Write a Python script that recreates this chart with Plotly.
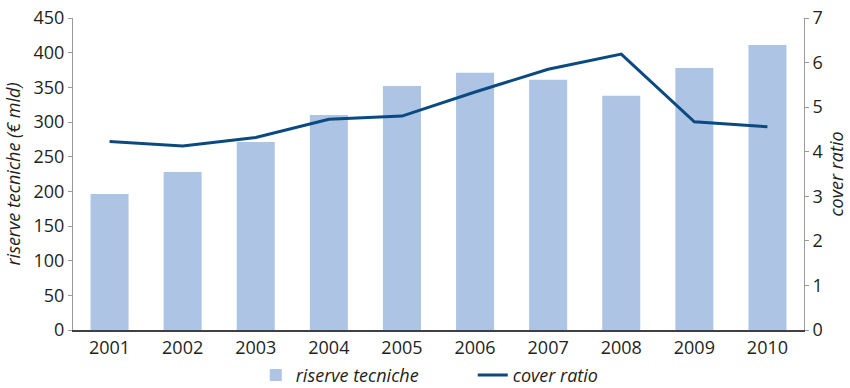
import plotly.graph_objects as go

years = ["2001", "2002", "2003", "2004", "2005", "2006", "2007", "2008", "2009", "2010"]
riserve_tecniche = [196, 228, 271, 310, 352, 371, 361, 338, 378, 411]
cover_ratio = [4.23, 4.13, 4.32, 4.73, 4.80, 5.34, 5.85, 6.19, 4.67, 4.56]

FONT = "Open Sans"
TXT = "#231f20"
BAR = "#aec4e4"
LINE = "#0b4a80"
FS = 18

fig = go.Figure()
fig.add_trace(go.Bar(
    x=years, y=riserve_tecniche, name="riserve tecniche",
    marker=dict(color=BAR, line=dict(width=0)), yaxis="y",
))
fig.add_trace(go.Scatter(
    x=years, y=cover_ratio, name="cover ratio", mode="lines",
    line=dict(color=LINE, width=3), yaxis="y2",
))

fig.update_layout(
    width=850, height=388,
    margin=dict(l=73, r=46, t=18, b=58, autoexpand=False),
    paper_bgcolor="white", plot_bgcolor="white",
    font=dict(family=FONT, size=FS, color=TXT),
    bargap=0.48,
    showlegend=True,
    legend=dict(
        orientation="h", x=0.25, xanchor="left",
        y=-0.145, yanchor="middle",
        font=dict(family=FONT, size=FS, color=TXT, style="italic"),
        itemwidth=30, tracegroupgap=0, entrywidth=172,
        bgcolor="rgba(0,0,0,0)",
    ),
    xaxis=dict(
        type="category", showgrid=False, showline=True, linecolor="#404040",
        linewidth=2, ticks="", tickfont=dict(size=FS), zeroline=False,
        automargin=False,
    ),
    yaxis=dict(
        range=[0, 450], dtick=50, showgrid=False, showline=True,
        linecolor="#9a9a9a", linewidth=1, ticks="outside", ticklen=4,
        tickcolor="#9a9a9a", zeroline=False, tickfont=dict(size=FS),
        automargin=False,
        title=dict(text="riserve tecniche (€ mld)", standoff=8,
                   font=dict(size=FS, style="italic")),
    ),
    yaxis2=dict(
        range=[0, 7], dtick=1, overlaying="y", side="right", showgrid=False,
        showline=True, linecolor="#9a9a9a", linewidth=1, ticks="outside",
        ticklen=4, tickcolor="#9a9a9a", zeroline=False, tickfont=dict(size=FS),
        automargin=False,
        title=dict(text="cover ratio", standoff=8,
                   font=dict(size=FS, style="italic")),
    ),
)

fig.write_html("out.html")
